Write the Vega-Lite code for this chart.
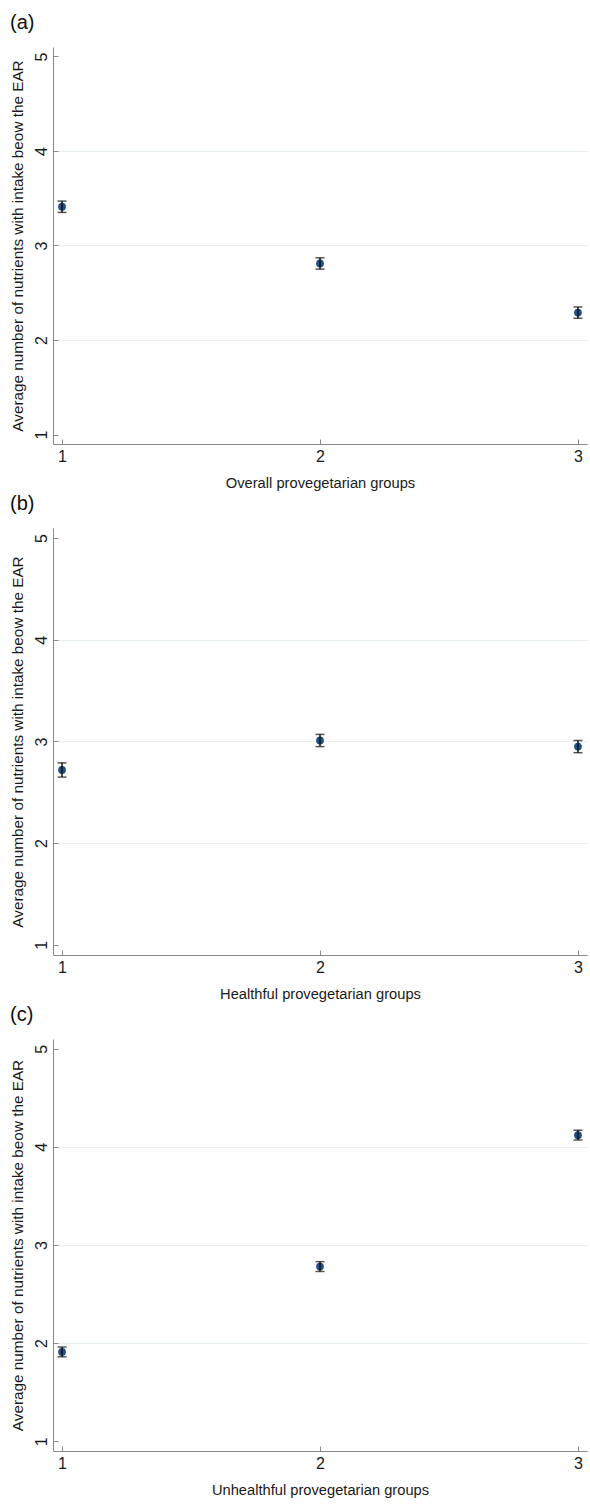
{
  "$schema": "https://vega.github.io/schema/vega-lite/v6.json",
  "padding": {"left": 10, "top": 13, "right": 2, "bottom": 5},
  "background": "white",
  "spacing": 4,
  "datasets": {
    "a": [
      {"group": 1, "mean": 3.41, "lo": 3.35, "hi": 3.47},
      {"group": 2, "mean": 2.81, "lo": 2.75, "hi": 2.87},
      {"group": 3, "mean": 2.29, "lo": 2.23, "hi": 2.35}
    ],
    "b": [
      {"group": 1, "mean": 2.72, "lo": 2.65, "hi": 2.79},
      {"group": 2, "mean": 3.01, "lo": 2.95, "hi": 3.07},
      {"group": 3, "mean": 2.95, "lo": 2.89, "hi": 3.01}
    ],
    "c": [
      {"group": 1, "mean": 1.91, "lo": 1.86, "hi": 1.96},
      {"group": 2, "mean": 2.78, "lo": 2.73, "hi": 2.83},
      {"group": 3, "mean": 4.12, "lo": 4.07, "hi": 4.17}
    ]
  },
  "vconcat": [
    {
      "title": {"text": "(a)"},
      "data": {"name": "a"},
      "width": 534,
      "height": 397,
      "encoding": {
        "x": {"field": "group", "type": "ordinal", "scale": {"type": "point", "padding": 0.035},
              "axis": {"title": "Overall provegetarian groups"}},
        "y": {"field": "mean", "type": "quantitative", "scale": {"domain": [0.9, 5.1], "nice": false, "zero": false},
              "axis": {"title": "Average number of nutrients with intake beow the EAR", "values": [1, 2, 3, 4, 5], "format": "d", "grid": true,
                       "gridColor": {"condition": {"test": "datum.value == 1 || datum.value == 5", "value": "transparent"}, "value": "#e6eef1"}}}
      },
      "layer": [
        {"mark": {"type": "point", "filled": true, "size": 60, "color": "#1f5087", "opacity": 1}},
        {"mark": {"type": "errorbar", "ticks": {"size": 9}, "color": "#111111", "thickness": 1.5},
         "encoding": {"y": {"field": "lo", "type": "quantitative"}, "y2": {"field": "hi"}}}
      ]
    },
    {
      "title": {"text": "(b)"},
      "data": {"name": "b"},
      "width": 534,
      "height": 427,
      "encoding": {
        "x": {"field": "group", "type": "ordinal", "scale": {"type": "point", "padding": 0.035},
              "axis": {"title": "Healthful provegetarian groups"}},
        "y": {"field": "mean", "type": "quantitative", "scale": {"domain": [0.9, 5.1], "nice": false, "zero": false},
              "axis": {"title": "Average number of nutrients with intake beow the EAR", "values": [1, 2, 3, 4, 5], "format": "d", "grid": true,
                       "gridColor": {"condition": {"test": "datum.value == 1 || datum.value == 5", "value": "transparent"}, "value": "#e6eef1"}}}
      },
      "layer": [
        {"mark": {"type": "point", "filled": true, "size": 60, "color": "#1f5087", "opacity": 1}},
        {"mark": {"type": "errorbar", "ticks": {"size": 9}, "color": "#111111", "thickness": 1.5},
         "encoding": {"y": {"field": "lo", "type": "quantitative"}, "y2": {"field": "hi"}}}
      ]
    },
    {
      "title": {"text": "(c)"},
      "data": {"name": "c"},
      "width": 534,
      "height": 412,
      "encoding": {
        "x": {"field": "group", "type": "ordinal", "scale": {"type": "point", "padding": 0.035},
              "axis": {"title": "Unhealthful provegetarian groups"}},
        "y": {"field": "mean", "type": "quantitative", "scale": {"domain": [0.9, 5.1], "nice": false, "zero": false},
              "axis": {"title": "Average number of nutrients with intake beow the EAR", "values": [1, 2, 3, 4, 5], "format": "d", "grid": true,
                       "gridColor": {"condition": {"test": "datum.value == 1 || datum.value == 5", "value": "transparent"}, "value": "#e6eef1"}}}
      },
      "layer": [
        {"mark": {"type": "point", "filled": true, "size": 60, "color": "#1f5087", "opacity": 1}},
        {"mark": {"type": "errorbar", "ticks": {"size": 9}, "color": "#111111", "thickness": 1.5},
         "encoding": {"y": {"field": "lo", "type": "quantitative"}, "y2": {"field": "hi"}}}
      ]
    }
  ],
  "config": {
    "font": "Liberation Sans",
    "view": {"stroke": null},
    "title": {"anchor": "start", "frame": "bounds", "fontSize": 20, "fontWeight": "normal", "offset": 14, "color": "#111111"},
    "axis": {
      "domainColor": "#8a8a8a",
      "tickColor": "#8a8a8a",
      "tickSize": -5,
      "labelColor": "#1a1a1a",
      "titleColor": "#1a1a1a",
      "labelFontSize": 16,
      "titleFontSize": 14.7,
      "titleFontWeight": "normal",
      "labelOverlap": false,
      "labelFlush": false,
      "grid": false
    },
    "axisX": {"labelPadding": 9, "titlePadding": 11, "labelAngle": 0},
    "axisY": {"labelAngle": -90, "labelPadding": 9, "titlePadding": 8, "titleFontSize": 15.3}
  }
}
